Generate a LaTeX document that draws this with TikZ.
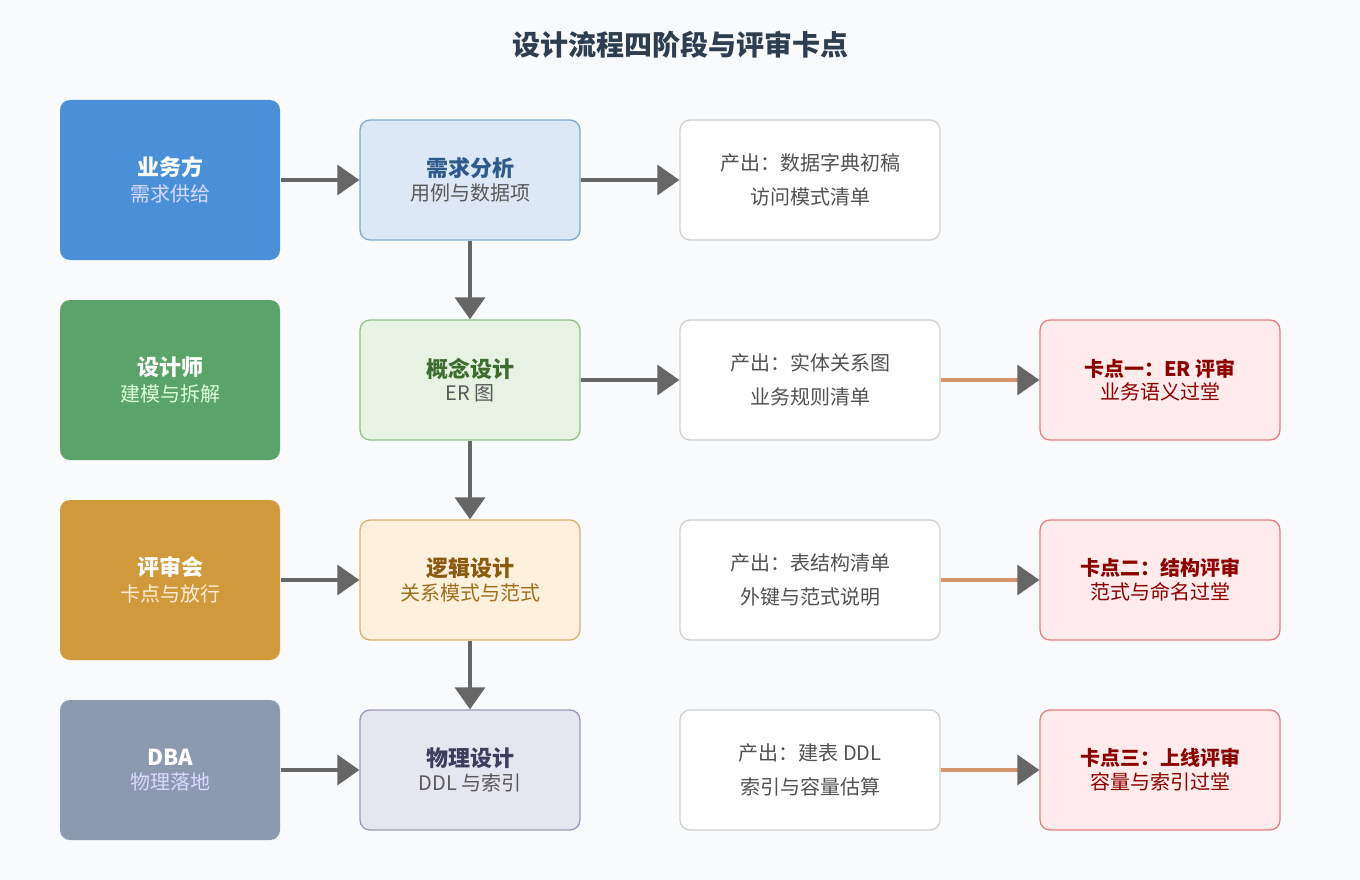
\documentclass[tikz,border=0pt]{standalone}
\usepackage{fontspec}
\setmainfont{Noto Sans CJK SC}
\usetikzlibrary{arrows.meta}
\definecolor{bg}{HTML}{F8FAFC}
\definecolor{arr}{HTML}{666666}
\definecolor{orn}{HTML}{D4956A}
\begin{document}
\begin{tikzpicture}[x=1pt,y=-1pt,
 box/.style={rounded corners=10pt,minimum width=#1,inner sep=0pt,align=center,line width=1.3pt},
 role/.style={box=220pt,minimum height=160pt,draw=none,text=white},
 stage/.style={box=220pt,minimum height=120pt},
 outb/.style={box=260pt,minimum height=120pt,fill=white,draw=black!18,text=black!68},
 chk/.style={box=240pt,minimum height=120pt,fill=red!8,draw=red!45!white!90!black,text=red!55!black},
 ga/.style={line width=3.5pt,draw=arr,-{Triangle[length=22pt,width=30pt,fill=arr]}},
 oa/.style={line width=3.5pt,draw=orn,-{Triangle[length=22pt,width=30pt,fill=arr,color=arr]}},
 s/.style={font=\fontsize{20}{30}\selectfont}]
\fill[bg] (0,0) rectangle (1360,880);
\useasboundingbox (0,0) rectangle (1360,880);
\node[font=\fontsize{28}{34}\selectfont\bfseries,text={rgb,255:red,44;green,62;blue,80}] (title) at (680,45) {设计流程四阶段与评审卡点};
% roles
\node[role,fill={rgb,255:red,74;green,144;blue,217}] (r1) at (170,180) {{\fontsize{22}{30}\selectfont\bfseries 业务方}\\[6pt]{\fontsize{20}{30}\selectfont\color{white!85!blue}需求供给}};
\node[role,fill={rgb,255:red,91;green,164;blue,105}] (r2) at (170,380) {{\fontsize{22}{30}\selectfont\bfseries 设计师}\\[6pt]{\fontsize{20}{30}\selectfont\color{white!85!green}建模与拆解}};
\node[role,fill={rgb,255:red,208;green,154;blue,60}] (r3) at (170,580) {{\fontsize{22}{30}\selectfont\bfseries 评审会}\\[6pt]{\fontsize{20}{30}\selectfont\color{white!85!orange}卡点与放行}};
\node[role,minimum height=140pt,fill={rgb,255:red,140;green,154;blue,176}] (r4) at (170,770) {{\fontsize{22}{30}\selectfont\bfseries DBA}\\[6pt]{\fontsize{20}{30}\selectfont\color{white!85!blue}物理落地}};
% stages
\node[stage,fill={rgb,255:red,220;green,232;blue,245},draw={rgb,255:red,127;green,168;blue,208}] (s1) at (470,180) {{\fontsize{22}{30}\selectfont\bfseries\color{rgb,255:red,45;green,90;blue,138}需求分析}\\[4pt]{\fontsize{20}{30}\selectfont\color{black!65}用例与数据项}};
\node[stage,fill={rgb,255:red,230;green,243;blue,227},draw={rgb,255:red,143;green,192;blue,136}] (s2) at (470,380) {{\fontsize{22}{30}\selectfont\bfseries\color{rgb,255:red,62;green,107;blue,46}概念设计}\\[4pt]{\fontsize{20}{30}\selectfont\color{black!65}ER 图}};
\node[stage,fill={rgb,255:red,253;green,240;blue,220},draw={rgb,255:red,221;green,176;blue,112}] (s3) at (470,580) {{\fontsize{22}{30}\selectfont\bfseries\color{rgb,255:red,138;green,90;blue,16}逻辑设计}\\[4pt]{\fontsize{20}{30}\selectfont\color{rgb,255:red,160;green,110;blue,30}关系模式与范式}};
\node[stage,fill={rgb,255:red,230;green,230;blue,240},draw={rgb,255:red,154;green,154;blue,184}] (s4) at (470,770) {{\fontsize{22}{30}\selectfont\bfseries\color{rgb,255:red,61;green,61;blue,94}物理设计}\\[4pt]{\fontsize{20}{30}\selectfont\color{black!65}DDL 与索引}};
% outputs
\node[outb,s] (o1) at (810,180) {产出：数据字典初稿\\[4pt]访问模式清单};
\node[outb,s] (o2) at (810,380) {产出：实体关系图\\[4pt]业务规则清单};
\node[outb,s] (o3) at (810,580) {产出：表结构清单\\[4pt]外键与范式说明};
\node[outb,s] (o4) at (810,770) {产出：建表 DDL\\[4pt]索引与容量估算};
% checkpoints
\node[chk] (c1) at (1160,380) {{\fontsize{20}{30}\selectfont\bfseries 卡点一：ER 评审}\\[4pt]{\fontsize{20}{30}\selectfont 业务语义过堂}};
\node[chk] (c2) at (1160,580) {{\fontsize{20}{30}\selectfont\bfseries 卡点二：结构评审}\\[4pt]{\fontsize{20}{30}\selectfont 范式与命名过堂}};
\node[chk] (c3) at (1160,770) {{\fontsize{20}{30}\selectfont\bfseries 卡点三：上线评审}\\[4pt]{\fontsize{20}{30}\selectfont 容量与索引过堂}};
% arrows
\draw[ga] (r1) -- (s1);
\draw[ga] (r3) -- (s3);
\draw[ga] (r4) -- (s4);
\draw[ga] (s1) -- (o1);
\draw[ga] (s2) -- (o2);
\draw[ga] (s1) -- (s2);
\draw[ga] (s2) -- (s3);
\draw[ga] (s3) -- (s4);
\draw[oa] (o2) -- (c1);
\draw[oa] (o3) -- (c2);
\draw[oa] (o4) -- (c3);
\end{tikzpicture}
\end{document}
